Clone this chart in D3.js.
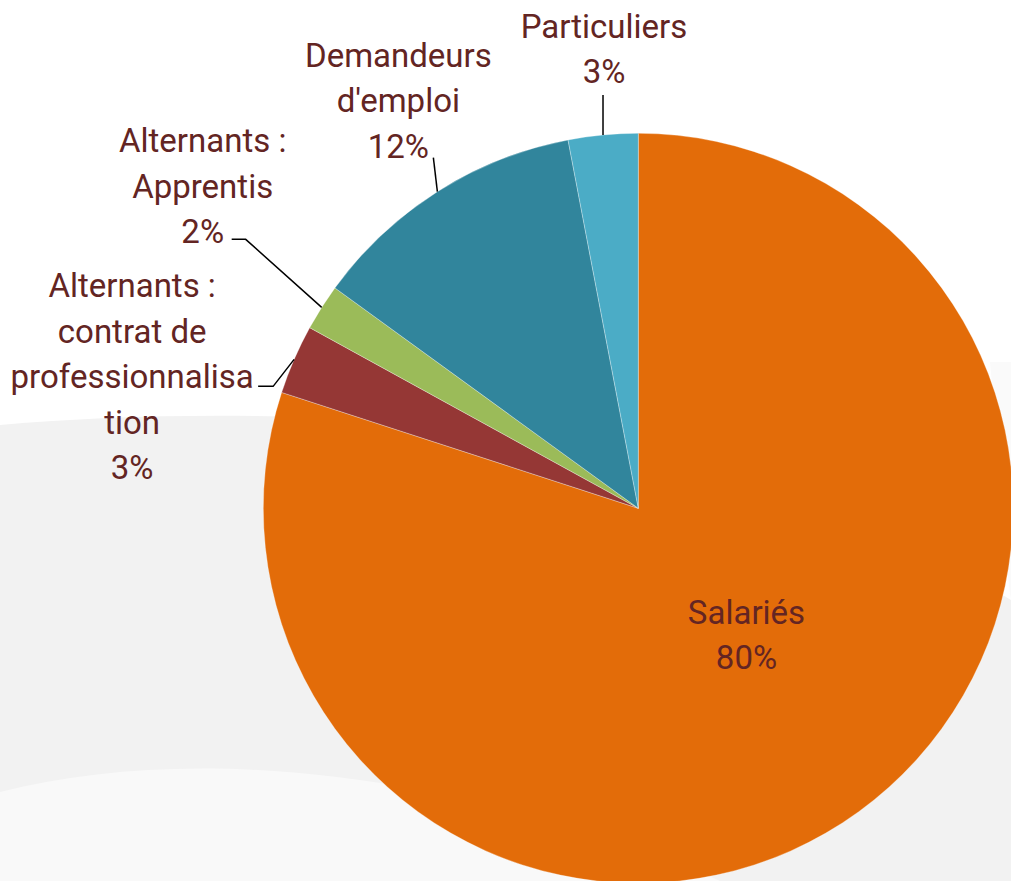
<!DOCTYPE html>
<html>
<head>
<meta charset="utf-8">
<title>Répartition des publics</title>
<script src="https://cdn.jsdelivr.net/npm/d3@7"></script>
<style>
  html, body { margin: 0; padding: 0; background: #fff; }
  svg { display: block; }
  text { font-family: Roboto, "Noto Sans", sans-serif; }
</style>
</head>
<body>
<div id="chart"></div>
<script>
// data, clockwise from 12 o'clock
const categories = ["Salariés", "Alternants : contrat de professionnalisation", "Alternants : Apprentis", "Demandeurs d'emploi", "Particuliers"];
const values = [80, 3, 2, 12, 3];
const labelLines = [
  ["Salariés"],
  ["Alternants :", "contrat de", "professionnalisa", "tion"],
  ["Alternants :", "Apprentis"],
  ["Demandeurs", "d'emploi"],
  ["Particuliers"]
];
const colors = ["#E36C09", "#953735", "#9BBB59", "#31859C", "#4BACC6"];

// label layout: offset of text block from anchor, leader polyline relative to anchor
const labelLayout = [
  { inside: true, dx: -2, dy: -36, leader: null },
  { dx: -162, dy: -62, leader: [[0, 0], [-21, 27], [-36, 27]] },
  { dx: -119, dy: -155, leader: [[0, 0], [-76, -68], [-90, -68]] },
  { dx: -39, dy: -125, leader: [[0, 0], [-4, -34]] },
  { dx: 1, dy: -97, leader: [[0, 0], [0, -40]] }
];

const width = 1011, height = 881;
const cx = 638.3, cy = 508.3, R = 375;
const lineH = 45.5;

const svg = d3.select("#chart").append("svg")
  .attr("width", width)
  .attr("height", height);

// background swooshes
svg.append("path")
  .attr("fill", "#f2f2f2")
  .attr("d", "M0,425 C150,412 320,412 500,430 C700,450 880,520 1011,600 L1011,881 L0,881 Z");
svg.append("path")
  .attr("fill", "#f9f9f9")
  .attr("d", "M0,792 C120,762 260,760 420,790 C560,815 650,850 720,881 L0,881 Z");
svg.append("path")
  .attr("fill", "#fafafa")
  .attr("d", "M990,362 C1000,362 1011,362 1011,362 L1011,600 C1005,560 998,450 990,362 Z");

const data = categories.map((c, i) => ({ name: c, value: values[i], lines: labelLines[i], color: colors[i], layout: labelLayout[i] }));

const pie = d3.pie().sort(null).value(d => d.value);
const arcs = pie(data);

const arc = d3.arc().innerRadius(0).outerRadius(R);
const edge = d3.arc().innerRadius(R).outerRadius(R);

const g = svg.append("g").attr("transform", `translate(${cx},${cy})`);

g.selectAll("path.slice")
  .data(arcs)
  .join("path")
  .attr("class", "slice")
  .attr("fill", d => d.data.color)
  .attr("stroke", "#fff")
  .attr("stroke-width", 0.5)
  .attr("stroke-opacity", 0.6)
  .attr("d", arc);

const fmt = v => v + "%";

arcs.forEach(d => {
  const lay = d.data.layout;
  const anchor = lay.inside ? arc.centroid(d) : edge.centroid(d);
  if (lay.leader) {
    g.append("path")
      .attr("fill", "none")
      .attr("stroke", "#000")
      .attr("stroke-width", 1.5)
      .attr("d", d3.line()(lay.leader.map(p => [anchor[0] + p[0], anchor[1] + p[1]])));
  }
  const lines = d.data.lines.concat([fmt(d.data.value)]);
  g.append("text")
    .attr("text-anchor", "middle")
    .attr("fill", "#632523")
    .attr("font-size", 33)
    .selectAll("tspan")
    .data(lines)
    .join("tspan")
    .attr("x", anchor[0] + lay.dx)
    .attr("y", (t, i) => anchor[1] + lay.dy + i * lineH)
    .text(t => t);
});
</script>
</body>
</html>
